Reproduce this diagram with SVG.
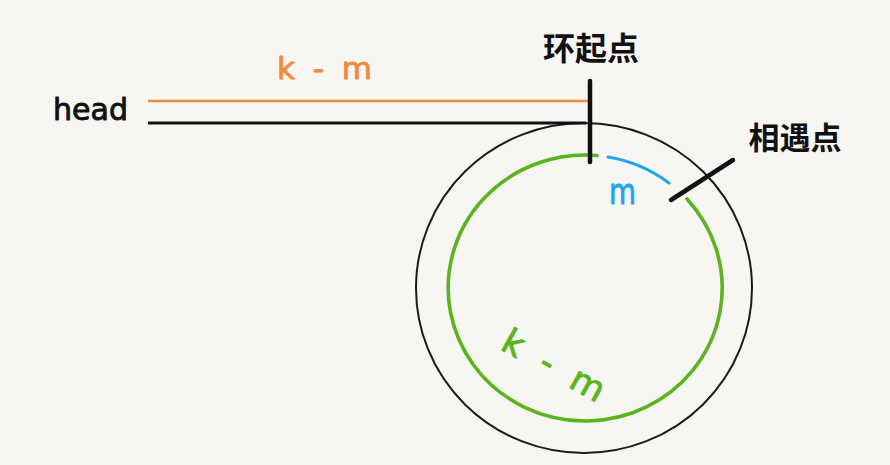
<svg xmlns="http://www.w3.org/2000/svg" width="890" height="465" viewBox="0 0 890 465">
  <style>
    .lbl { font-family: "DejaVu Sans", "Noto Sans", sans-serif; stroke-width: 0.9; stroke-linejoin: round; }
    .cjk { font-family: "Noto Sans CJK SC", "Noto Sans", sans-serif; font-weight: bold; fill: #111; }
    .tick { stroke: #111; stroke-width: 4.5; stroke-linecap: round; fill: none; }
  </style>
  <rect x="0" y="0" width="890" height="465" fill="#f7f6f3"/>

  <g id="loop">
    <ellipse cx="584" cy="288" rx="168" ry="165" fill="none" stroke="#1a1a1a" stroke-width="2"/>
  </g>

  <g id="connectors">
    <line x1="148" y1="101" x2="590" y2="101" stroke="#f48a3c" stroke-width="2.5"/>
    <line x1="148" y1="123" x2="586" y2="123" stroke="#111" stroke-width="3.2"/>
    <path d="M 597 155.5 A 137 133 0 1 0 687 199" fill="none" stroke="#5ab41e" stroke-width="3.6" stroke-linecap="round"/>
    <path d="M 608 157 A 137 133 0 0 1 669 183" fill="none" stroke="#1ea5ef" stroke-width="3" stroke-linecap="round"/>
  </g>

  <g id="head">
    <text class="lbl" x="53" y="120" font-size="30" fill="#111" stroke="#111" textLength="75" lengthAdjust="spacingAndGlyphs">head</text>
  </g>

  <g id="label-orange">
    <text class="lbl" x="277" y="79" font-size="31" fill="#f48a3c" stroke="#f48a3c" textLength="95" lengthAdjust="spacing">k - m</text>
  </g>

  <g id="loop-start">
    <line class="tick" x1="590" y1="81" x2="590" y2="162"/>
    <text class="cjk" x="591" y="60" font-size="32" text-anchor="middle">环起点</text>
  </g>

  <g id="meet-point">
    <line class="tick" x1="671" y1="200" x2="733" y2="160"/>
    <text class="cjk" x="795" y="149" font-size="31" text-anchor="middle">相遇点</text>
  </g>

  <g id="label-blue">
    <text class="lbl" x="609" y="204" font-size="36" fill="#1ea5ef" stroke="#1ea5ef" textLength="27" lengthAdjust="spacingAndGlyphs">m</text>
  </g>

  <g id="label-green">
    <text class="lbl" x="0" y="0" font-size="35" fill="#5ab41e" stroke="#5ab41e" stroke-width="1.4" text-anchor="middle" textLength="112" lengthAdjust="spacing" transform="translate(548,376) rotate(29)">k - m</text>
  </g>
</svg>
